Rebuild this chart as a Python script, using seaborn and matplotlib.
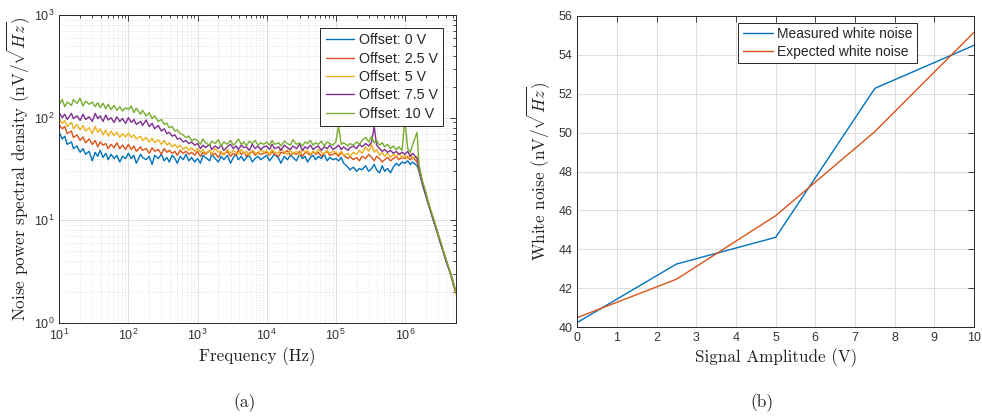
import numpy as np
import pandas as pd
import matplotlib
matplotlib.use("Agg")
import matplotlib.pyplot as plt
import seaborn as sns

# ---------------- data: panel (a) ----------------
freq_hz = [
    10, 11, 12, 13, 15, 16, 18, 20, 22, 24, 27, 30, 33, 36, 39, 43, 47, 51, 56, 62, 68, 75, 82, 91,
    100, 110, 120, 130, 150, 160, 180, 200, 220, 240, 270, 300, 330, 360, 390, 430, 470, 510, 560, 620, 680, 750, 820, 910,
    1000, 1100, 1200, 1300, 1500, 1600, 1800, 2000, 2200, 2400, 2700, 3000, 3300, 3600, 3900, 4300, 4700, 5100, 5600, 6200, 6800, 7500, 8200, 9100,
    1.0e4, 1.1e4, 1.2e4, 1.3e4, 1.5e4, 1.6e4, 1.8e4, 2.0e4, 2.2e4, 2.4e4, 2.7e4, 3.0e4, 3.3e4, 3.6e4, 3.9e4, 4.3e4, 4.7e4, 5.1e4, 5.6e4, 6.2e4, 6.8e4, 7.5e4, 8.2e4, 9.1e4,
    1.0e5, 1.1e5, 1.2e5, 1.3e5, 1.5e5, 1.6e5, 1.8e5, 2.0e5, 2.2e5, 2.4e5, 2.7e5, 3.0e5, 3.3e5, 3.6e5, 3.9e5, 4.3e5, 4.7e5, 5.1e5, 5.6e5, 6.2e5, 6.8e5, 7.5e5, 8.2e5, 9.1e5,
    1.0e6, 1.1e6, 1.2e6, 1.3e6, 1.5e6, 1.6e6, 1.8e6, 2.0e6, 2.2e6, 2.4e6, 2.7e6, 3.0e6, 3.3e6, 3.6e6, 3.9e6, 4.3e6, 4.7e6, 5.1e6, 5.5e6,
]

psd_0v = [
    72, 62, 66, 55, 58, 50, 53, 46, 50, 44, 47, 38, 46, 42, 48, 41, 45, 39, 44, 40, 43, 37, 42, 40,
    45, 40, 43, 36, 44, 41, 39, 42, 35, 43, 40, 44, 38, 41, 37, 43, 40, 36, 42, 39, 44, 38, 41, 37,
    40, 36, 43, 41, 38, 44, 40, 37, 42, 39, 43, 36, 41, 44, 39, 42, 38, 41, 43, 37, 40, 42, 39, 41,
    43, 38, 41, 44, 40, 36, 42, 39, 43, 41, 38, 44, 40, 42, 37, 41, 43, 39, 42, 40, 44, 38, 41, 39,
    40, 38, 41, 36, 33, 31, 33, 30, 32, 31, 34, 30, 32, 35, 31, 29, 34, 30, 32, 29, 33, 36, 34, 37,
    36, 38, 35, 37, 34, 30, 22, 17.5, 14, 11.7, 9.1, 7.3, 5.9, 4.9, 4.1, 3.4, 2.8, 2.3, 1.95,
]

psd_2v5 = [
    85, 78, 82, 70, 74, 64, 68, 60, 65, 57, 62, 55, 60, 52, 58, 54, 56, 50, 55, 51, 57, 50, 54, 49,
    55, 49, 53, 47, 52, 48, 50, 45, 51, 47, 49, 44, 50, 46, 48, 45, 47, 43, 48, 45, 47, 44, 46, 43,
    47, 42, 46, 44, 48, 43, 45, 41, 46, 44, 47, 42, 45, 43, 48, 44, 46, 42, 45, 47, 43, 46, 44, 45,
    46, 43, 47, 44, 42, 46, 45, 48, 43, 45, 44, 47, 42, 46, 45, 43, 47, 44, 46, 42, 45, 47, 43, 44,
    45, 42, 46, 43, 40, 42, 39, 41, 38, 42, 40, 44, 41, 38, 42, 40, 37, 39, 41, 38, 40, 42, 39, 41,
    40, 42, 39, 41, 37, 31, 23, 18, 14.5, 12, 9.3, 7.5, 6.0, 5.0, 4.2, 3.5, 2.9, 2.4, 2.0,
]

psd_5v = [
    98, 88, 94, 82, 90, 78, 86, 76, 84, 74, 80, 70, 82, 72, 78, 68, 76, 66, 74, 67, 72, 64, 70, 65,
    71, 64, 68, 62, 66, 60, 64, 58, 63, 57, 61, 55, 60, 54, 57, 52, 55, 51, 54, 49, 52, 48, 51, 47,
    50, 46, 49, 45, 48, 44, 50, 46, 47, 43, 49, 45, 48, 46, 44, 49, 45, 47, 43, 48, 46, 44, 49, 46,
    48, 44, 49, 46, 45, 50, 46, 44, 48, 45, 47, 43, 49, 46, 48, 44, 47, 45, 49, 46, 44, 48, 45, 47,
    46, 44, 47, 43, 45, 42, 46, 44, 48, 45, 52, 47, 55, 46, 49, 43, 46, 42, 45, 41, 44, 42, 45, 41,
    43, 40, 44, 40, 42, 32, 24, 18.5, 14, 12.3, 9.5, 7.2, 6.1, 4.9, 4.2, 3.4, 2.8, 2.3, 1.9,
]

psd_7v5 = [
    112, 100, 108, 96, 110, 98, 104, 94, 108, 96, 102, 92, 110, 98, 104, 92, 106, 95, 100, 90, 102, 92, 98, 88,
    100, 90, 96, 86, 92, 84, 95, 82, 88, 78, 84, 74, 78, 70, 72, 66, 68, 62, 63, 58, 60, 56, 58, 54,
    56, 50, 54, 51, 55, 49, 53, 50, 54, 48, 52, 55, 50, 53, 49, 54, 51, 52, 48, 55, 50, 53, 49, 52,
    53, 49, 55, 50, 52, 48, 54, 51, 49, 53, 50, 55, 48, 52, 50, 54, 49, 51, 53, 48, 52, 50, 54, 49,
    51, 54, 49, 52, 48, 51, 53, 50, 55, 52, 56, 53, 58, 82, 54, 50, 47, 49, 46, 48, 45, 47, 44, 46,
    44, 47, 42, 45, 40, 33, 23, 18, 14.5, 11.8, 9.2, 7.4, 5.9, 5.0, 4.1, 3.4, 2.9, 2.3, 2.0,
]

psd_10v = [
    135, 150, 128, 142, 132, 150, 138, 155, 130, 145, 135, 142, 128, 140, 125, 138, 122, 135, 120, 132, 118, 128, 116, 125,
    120, 130, 112, 124, 108, 118, 104, 112, 98, 104, 92, 96, 86, 88, 80, 82, 74, 76, 70, 68, 64, 66, 60, 62,
    60, 55, 62, 57, 54, 59, 56, 61, 53, 58, 55, 60, 54, 57, 62, 55, 58, 53, 59, 56, 60, 54, 57, 55,
    58, 54, 60, 55, 57, 53, 59, 56, 54, 61, 55, 57, 53, 58, 56, 60, 54, 57, 55, 59, 53, 58, 56, 54,
    58, 82, 55, 57, 53, 56, 54, 58, 55, 60, 64, 58, 66, 57, 60, 54, 57, 52, 55, 50, 53, 49, 52, 48,
    95, 50, 46, 55, 72, 35, 24, 19, 15, 12.2, 9.6, 7.6, 6.2, 5.1, 4.3, 3.5, 2.9, 2.4, 2.0,
]

offset_labels = ["Offset: 0 V", "Offset: 2.5 V", "Offset: 5 V", "Offset: 7.5 V", "Offset: 10 V"]
xtick_vals_a = [1e1, 1e2, 1e3, 1e4, 1e5, 1e6]
xtick_labels_a = [r"$\mathsf{10^{1}}$", r"$\mathsf{10^{2}}$", r"$\mathsf{10^{3}}$",
                  r"$\mathsf{10^{4}}$", r"$\mathsf{10^{5}}$", r"$\mathsf{10^{6}}$"]
ytick_vals_a = [1e0, 1e1, 1e2, 1e3]
ytick_labels_a = [r"$\mathsf{10^{0}}$", r"$\mathsf{10^{1}}$", r"$\mathsf{10^{2}}$", r"$\mathsf{10^{3}}$"]

# ---------------- data: panel (b) ----------------
amplitude_v = [0, 2.5, 5, 7.5, 10]
measured_noise = [40.25, 43.25, 44.62, 52.27, 54.48]
expected_noise = [40.50, 42.47, 45.73, 50.05, 55.15]
series_b = ["Measured white noise", "Expected white noise"]

# ---------------- style ----------------
sns.set_style("white")
plt.rcParams["mathtext.fontset"] = "custom"
plt.rcParams["mathtext.rm"] = "cmr10"
plt.rcParams["mathtext.it"] = "cmmi10"
plt.rcParams["mathtext.bf"] = "cmb10"
plt.rcParams["mathtext.sf"] = "Liberation Sans"
plt.rcParams["mathtext.fallback"] = "cm"
plt.rcParams["font.family"] = ["Liberation Sans", "DejaVu Sans"]

matlab_colors = ["#0072BD", "#D95319", "#EDB120", "#7E2F8E", "#77AC30"]
tick_color = "#333333"
spine_color = "#262626"
grid_color = "#dedede"
label_size = 12.3

fig = plt.figure(figsize=(9.82, 4.17), dpi=100)
ax1 = fig.add_axes([0.0604, 0.2254, 0.404, 0.7386])
ax2 = fig.add_axes([0.5879, 0.2151, 0.404, 0.7472])

# ---------------- panel (a) ----------------
df_a = pd.DataFrame({
    "freq": freq_hz * 5,
    "psd": psd_0v + psd_2v5 + psd_5v + psd_7v5 + psd_10v,
    "offset": sum([[lab] * len(freq_hz) for lab in offset_labels], []),
})
sns.lineplot(data=df_a, x="freq", y="psd", hue="offset", hue_order=offset_labels,
             palette=matlab_colors, estimator=None, sort=False, lw=1.0, ax=ax1)
ax1.set_xscale("log")
ax1.set_yscale("log")
ax1.set_xlim(10, 5.5e6)
ax1.set_ylim(1, 1000)
ax1.set_xticks(xtick_vals_a)
ax1.set_xticklabels(xtick_labels_a)
ax1.set_yticks(ytick_vals_a)
ax1.set_yticklabels(ytick_labels_a)
ax1.grid(True, which="major", color=grid_color, lw=0.7, ls="-")
ax1.grid(True, which="minor", color="#d8d8d8", lw=0.6, ls=(0, (1, 2)))
ax1.set_xlabel("Frequency (Hz)", family="cmr10", fontsize=label_size, color="#222222", labelpad=3)
ax1.set_ylabel(r"Noise power spectral density $(\mathrm{nV}/\sqrt{Hz})$", family="cmr10",
               fontsize=label_size, color="#222222", labelpad=1)
h, l = ax1.get_legend_handles_labels()
leg1 = ax1.legend(h, l, loc="upper right", bbox_to_anchor=(0.967, 0.958), fontsize=10.3,
                  frameon=True, fancybox=False, framealpha=1, edgecolor="#262626",
                  handlelength=2.0, handletextpad=0.3, borderpad=0.38, labelspacing=0.3,
                  borderaxespad=0)
leg1.get_frame().set_linewidth(0.7)

# ---------------- panel (b) ----------------
df_b = pd.DataFrame({
    "amp": amplitude_v * 2,
    "noise": measured_noise + expected_noise,
    "series": [series_b[0]] * len(amplitude_v) + [series_b[1]] * len(amplitude_v),
})
sns.lineplot(data=df_b, x="amp", y="noise", hue="series", hue_order=series_b,
             palette=matlab_colors[:2], estimator=None, sort=False, lw=1.0, ax=ax2)
ax2.set_xlim(0, 10)
ax2.set_ylim(40, 56)
ax2.set_xticks(range(0, 11))
ax2.set_yticks(range(40, 57, 2))
ax2.grid(True, which="major", color=grid_color, lw=0.8, ls="-")
ax2.set_xlabel("Signal Amplitude (V)", family="cmr10", fontsize=label_size, color="#222222", labelpad=3)
ax2.set_ylabel(r"White noise $(\mathrm{nV}/\sqrt{Hz})$", family="cmr10",
               fontsize=label_size, color="#222222", labelpad=5)
h, l = ax2.get_legend_handles_labels()
leg2 = ax2.legend(h, l, loc="upper right", bbox_to_anchor=(0.856, 0.977), fontsize=10,
                  frameon=True, fancybox=False, framealpha=1, edgecolor="#262626",
                  handlelength=2.2, handletextpad=0.3, borderpad=0.3, labelspacing=0.3,
                  borderaxespad=0)
leg2.get_frame().set_linewidth(0.7)

for ax in (ax1, ax2):
    for s in ax.spines.values():
        s.set_visible(True)
        s.set_color(spine_color)
        s.set_linewidth(0.7)
    ax.tick_params(which="both", direction="in", top=True, right=True,
                   colors=spine_color, labelcolor=tick_color, labelsize=9, width=0.6)
    ax.tick_params(which="major", length=4)
    ax.tick_params(which="minor", length=2)

fig.text(245 / 982, 1 - 403 / 417, "(a)", family="cmr10", fontsize=12.5, ha="center", va="center")
fig.text(762 / 982, 1 - 403 / 417, "(b)", family="cmr10", fontsize=12.5, ha="center", va="center")

fig.savefig("out.png", dpi=100)
